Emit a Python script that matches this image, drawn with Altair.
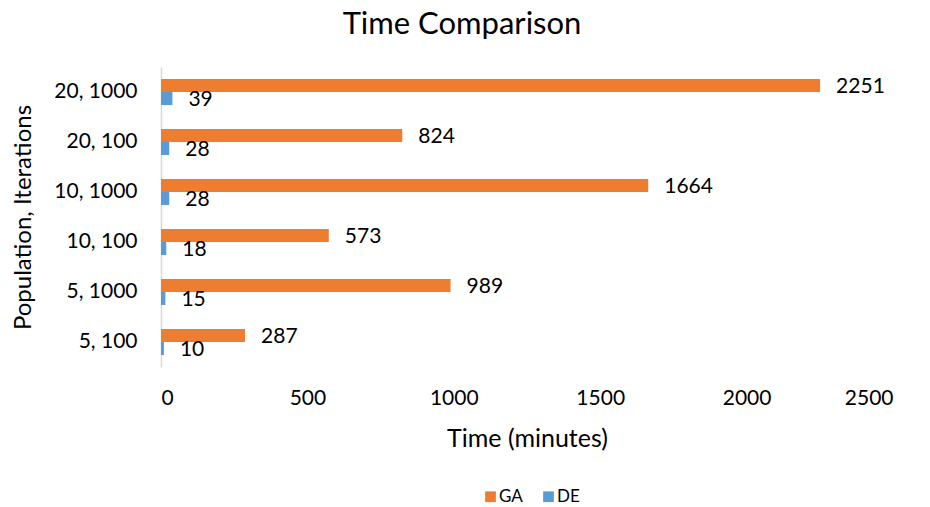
import altair as alt
import pandas as pd

categories = ["20, 1000", "20, 100", "10, 1000", "10, 100", "5, 1000", "5, 100"]
series = ["GA", "DE"]
ga_values = [2251, 824, 1664, 573, 989, 287]
de_values = [39, 28, 28, 18, 15, 10]
colors = ["#ED7D31", "#5B9BD5"]
x_ticks = [0, 500, 1000, 1500, 2000, 2500]

rows = []
for c, g, d in zip(categories, ga_values, de_values):
    rows.append({"cat": c, "series": "GA", "value": g})
    rows.append({"cat": c, "series": "DE", "value": d})
df = pd.DataFrame(rows)

FONT = "Lato"

y_enc = alt.Y("cat:N", sort=categories,
              scale=alt.Scale(paddingInner=0.48, paddingOuter=0.24),
              axis=alt.Axis(title="Population, Iterations", titleFontSize=24,
                            titleFontWeight="normal", titleColor="#000000",
                            titleX=-131, titleY=150, titleBaseline="alphabetic",
                            titleAngle=270, titleAlign="center",
                            labelFontSize=21, labelColor="#000000", labelPadding=24,
                            ticks=False, domain=True, domainColor="#D9D9D9",
                            domainWidth=1.5, grid=False))
yoff = alt.YOffset("series:N", sort=series)
x_enc = alt.X("value:Q",
              scale=alt.Scale(domain=[0, 2500], nice=False),
              axis=alt.Axis(title="Time (minutes)", values=x_ticks, format="d",
                            titleFontSize=25,
                            titleFontWeight="normal", titleColor="#000000",
                            titleY=79, titleBaseline="alphabetic",
                            labelFontSize=21, labelColor="#000000", labelPadding=20,
                            ticks=False, domain=False, grid=False))

bars = alt.Chart(df).mark_bar(size=13).encode(
    x=x_enc,
    y=y_enc,
    yOffset=yoff,
    color=alt.Color("series:N", sort=series,
                    scale=alt.Scale(domain=series, range=colors),
                    legend=alt.Legend(title=None, orient="none", direction="horizontal",
                                      legendX=321, legendY=421,
                                      symbolType="square", symbolSize=115,
                                      symbolStrokeWidth=0, labelFontSize=17,
                                      labelColor="#000000", labelOffset=0,
                                      columnPadding=17)),
)

labels = alt.Chart(df).mark_text(align="left", baseline="middle", dx=16, dy=1.5,
                                 fontSize=21, color="#000000", font=FONT).encode(
    x=alt.X("value:Q"),
    y=alt.Y("cat:N", sort=categories),
    yOffset=yoff,
    text=alt.Text("value:Q", format="d"),
)

chart = alt.layer(bars, labels).properties(
    width=732, height=300,
    title=alt.TitleParams("Time Comparison", fontSize=31, fontWeight="normal",
                          color="#000000", anchor="middle", dx=-65, offset=26),
    autosize=alt.AutoSizeParams(type="none"),
    padding={"left": 161, "top": 67, "right": 37, "bottom": 140},
).configure(font=FONT).configure_view(stroke=None)

chart.save("out.html", embed_options={"renderer": "svg", "actions": False})
